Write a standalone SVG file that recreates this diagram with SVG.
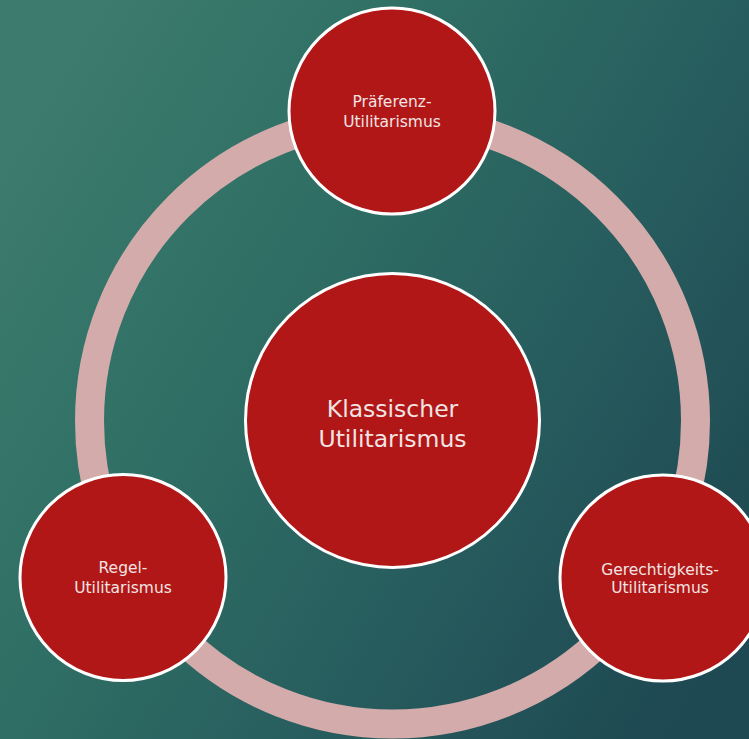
<svg xmlns="http://www.w3.org/2000/svg" width="749" height="739" viewBox="0 0 749 739">
<defs>
<linearGradient id="bg" gradientUnits="userSpaceOnUse" x1="0" y1="150" x2="749" y2="600">
<stop offset="0" stop-color="#3c7b6d"/>
<stop offset="0.35" stop-color="#2f6e64"/>
<stop offset="0.65" stop-color="#275d5e"/>
<stop offset="1" stop-color="#1e4852"/>
</linearGradient>
</defs>
<style>
.node{fill:#b01716;stroke:#ffffff;stroke-width:3}
.lbl{fill:#f2e4e4;font-family:"DejaVu Sans","Liberation Sans",sans-serif;text-anchor:middle}
.s{font-size:15.5px}
.b{font-size:23.5px}
</style>
<rect width="749" height="739" fill="url(#bg)"/>
<g id="connectors">
<circle cx="392.5" cy="421" r="303" fill="none" stroke="#d4abab" stroke-width="29"/>
</g>
<g id="center">
<circle class="node" cx="392.5" cy="420.5" r="147"/>
<text class="lbl b" x="392.5" y="417">Klassischer</text>
<text class="lbl b" x="392.5" y="447">Utilitarismus</text>
</g>
<g id="top">
<circle class="node" cx="392" cy="111" r="103"/>
<text class="lbl s" x="392" y="107">Präferenz-</text>
<text class="lbl s" x="392" y="127">Utilitarismus</text>
</g>
<g id="left">
<circle class="node" cx="123" cy="577.5" r="103"/>
<text class="lbl s" x="123" y="573">Regel-</text>
<text class="lbl s" x="123" y="593">Utilitarismus</text>
</g>
<g id="right">
<circle class="node" cx="663" cy="578" r="103"/>
<text class="lbl s" x="660" y="575">Gerechtigkeits-</text>
<text class="lbl s" x="660" y="593">Utilitarismus</text>
</g>
</svg>
